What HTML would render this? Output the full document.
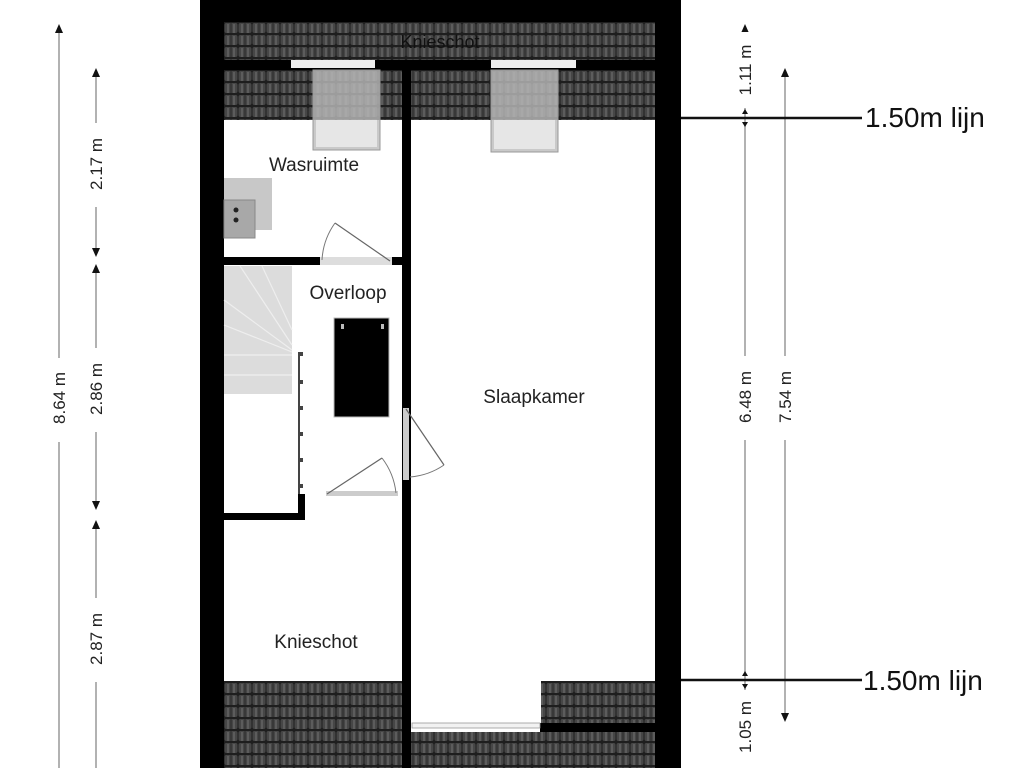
<!DOCTYPE html>
<html><head><meta charset="utf-8"><style>
html,body{margin:0;padding:0;background:#fff;width:1024px;height:768px;overflow:hidden}
svg{display:block}
text{font-family:"Liberation Sans",sans-serif}
</style></head><body>
<svg width="1024" height="768" viewBox="0 0 1024 768" xmlns="http://www.w3.org/2000/svg">
<defs>
<pattern id="tile" x="224" y="22" width="14" height="12" patternUnits="userSpaceOnUse">
<rect width="14" height="12" fill="#1e1e1e"/>
<rect x="0.5" y="1" width="13" height="10" rx="2" fill="#464646"/>
<rect x="3" y="2" width="2" height="9" fill="#5c5c5c"/>
<rect x="9" y="2" width="2" height="9" fill="#5c5c5c"/>
<rect x="6.5" y="1" width="1" height="10" fill="#2a2a2a"/>
</pattern>
</defs>
<rect x="200" y="0" width="481" height="768" fill="#000"/>
<rect x="224" y="22" width="431" height="38" fill="url(#tile)"/>
<rect x="224" y="70" width="178" height="50" fill="url(#tile)"/>
<rect x="411" y="70" width="244" height="50" fill="url(#tile)"/>
<text x="440" y="48" font-size="18" fill="#111" text-anchor="middle">Knieschot</text>
<rect x="224" y="120" width="178" height="137" fill="#fff"/>
<rect x="411" y="120" width="244" height="603" fill="#fff"/>
<rect x="224" y="265" width="178" height="248" fill="#fff"/>
<rect x="305" y="495" width="97" height="30" fill="#fff"/>
<rect x="224" y="520" width="178" height="161" fill="#fff"/>
<rect x="298" y="494" width="7" height="26" fill="#000"/>
<rect x="411" y="723" width="129" height="9" fill="#fff"/>
<rect x="224" y="681" width="178" height="87" fill="url(#tile)"/>
<rect x="541" y="681" width="114" height="42" fill="url(#tile)"/>
<rect x="411" y="732" width="244" height="36" fill="url(#tile)"/>
<rect x="291" y="60" width="84" height="8" fill="#eee"/>
<rect x="313" y="70" width="67" height="80" fill="#bbb" fill-opacity="0.8" stroke="#999"/>
<rect x="316" y="120" width="61" height="27" fill="#e6e6e6"/>
<rect x="491" y="60" width="85" height="8" fill="#eee"/>
<rect x="491" y="70" width="67" height="82" fill="#bbb" fill-opacity="0.8" stroke="#999"/>
<rect x="494" y="120" width="61" height="29" fill="#e6e6e6"/>
<rect x="412" y="723" width="128" height="5" fill="#f2f2f2" stroke="#999" stroke-width="0.8"/>
<rect x="224" y="178" width="48" height="52" fill="#c8c8c8"/>
<rect x="224" y="200" width="31" height="38" fill="#a8a8a8" stroke="#888"/>
<circle cx="236" cy="210" r="2.5" fill="#222"/><circle cx="236" cy="220" r="2.5" fill="#222"/>
<rect x="320" y="257" width="72" height="8" fill="#ddd"/>
<line x1="390" y1="261" x2="335" y2="223" stroke="#666" stroke-width="1.2"/>
<path d="M335 223 A70 70 0 0 0 322 260" fill="none" stroke="#777"/>
<rect x="224" y="266" width="68" height="128" fill="#dcdcdc"/>
<g stroke="#eeeeee" stroke-width="1.2">
<line x1="224" y1="355" x2="292" y2="355"/><line x1="224" y1="375" x2="292" y2="375"/>
<line x1="240" y1="266" x2="292" y2="345"/><line x1="262" y1="266" x2="292" y2="330"/>
<line x1="224" y1="300" x2="292" y2="350"/><line x1="224" y1="325" x2="292" y2="352"/>
</g>
<line x1="299" y1="352" x2="299" y2="494" stroke="#444" stroke-width="2"/>
<g fill="#444"><rect x="299" y="352" width="4" height="4"/><rect x="299" y="380" width="4" height="4"/><rect x="299" y="406" width="4" height="4"/><rect x="299" y="432" width="4" height="4"/><rect x="299" y="458" width="4" height="4"/><rect x="299" y="484" width="4" height="4"/></g>
<rect x="334" y="318" width="55" height="99" fill="#000" stroke="#bbb"/>
<rect x="341" y="324" width="3" height="5" fill="#bbb"/><rect x="381" y="324" width="3" height="5" fill="#bbb"/>
<rect x="326" y="491" width="72" height="5" fill="#ccc"/>
<line x1="327" y1="494" x2="382" y2="458" stroke="#666" stroke-width="1.2"/>
<path d="M382 458 A70 70 0 0 1 396 493" fill="none" stroke="#777"/>
<rect x="403" y="408" width="6" height="72" fill="#ccc"/>
<line x1="406" y1="409" x2="444" y2="465" stroke="#666" stroke-width="1.2"/>
<path d="M444 465 A70 70 0 0 1 410 477" fill="none" stroke="#777"/>
<g font-size="19" fill="#222" text-anchor="middle">
<text x="314" y="171">Wasruimte</text>
<text x="348" y="299">Overloop</text>
<text x="534" y="403">Slaapkamer</text>
<text x="316" y="648">Knieschot</text>
</g>
<g stroke="#999" stroke-width="1.5" fill="none">
<line x1="59" y1="28" x2="59" y2="768"/>
<line x1="96" y1="72" x2="96" y2="253"/>
<line x1="96" y1="268" x2="96" y2="506"/>
<line x1="96" y1="524" x2="96" y2="768"/>
<line x1="745" y1="28" x2="745" y2="768"/>
<line x1="785" y1="72" x2="785" y2="718"/>
</g>
<g fill="#111">
<path d="M55 33 L59 24 L63 33 Z"/>
<path d="M92 77 L96 68 L100 77 Z"/><path d="M92 248 L96 257 L100 248 Z"/>
<path d="M92 273 L96 264 L100 273 Z"/><path d="M92 501 L96 510 L100 501 Z"/>
<path d="M92 529 L96 520 L100 529 Z"/>
<path d="M741 33 L745 24 L749 33 Z"/>
<path d="M781 77 L785 68 L789 77 Z"/><path d="M781 713 L785 722 L789 713 Z"/>
<path d="M742 114 L745 109 L748 114 Z"/><path d="M742 122 L745 127 L748 122 Z"/><path d="M742 676 L745 671 L748 676 Z"/><path d="M742 684 L745 689 L748 684 Z"/>
</g>
<g font-size="17" fill="#222" text-anchor="middle">
<rect x="48" y="358" width="22" height="84" fill="#fff"/>
<text transform="translate(65,398) rotate(-90)">8.64 m</text>
<rect x="86" y="123" width="22" height="84" fill="#fff"/>
<text transform="translate(102,164) rotate(-90)">2.17 m</text>
<rect x="86" y="348" width="22" height="84" fill="#fff"/>
<text transform="translate(102,389) rotate(-90)">2.86 m</text>
<rect x="86" y="598" width="22" height="84" fill="#fff"/>
<text transform="translate(102,639) rotate(-90)">2.87 m</text>
<rect x="734" y="32" width="22" height="76" fill="#fff"/>
<text transform="translate(751,70) rotate(-90)">1.11 m</text>
<rect x="734" y="356" width="22" height="84" fill="#fff"/>
<text transform="translate(751,397) rotate(-90)">6.48 m</text>
<rect x="774" y="356" width="22" height="84" fill="#fff"/>
<text transform="translate(791,397) rotate(-90)">7.54 m</text>
<rect x="734" y="690" width="22" height="78" fill="#fff"/>
<text transform="translate(751,727) rotate(-90)">1.05 m</text>
</g>
<line x1="681" y1="118" x2="862" y2="118" stroke="#111" stroke-width="2.5"/>
<line x1="681" y1="680" x2="862" y2="680" stroke="#111" stroke-width="2.5"/>
<g font-size="28" fill="#111">
<text x="865" y="127">1.50m lijn</text>
<text x="863" y="690">1.50m lijn</text>
</g>
</svg>
</body></html>
